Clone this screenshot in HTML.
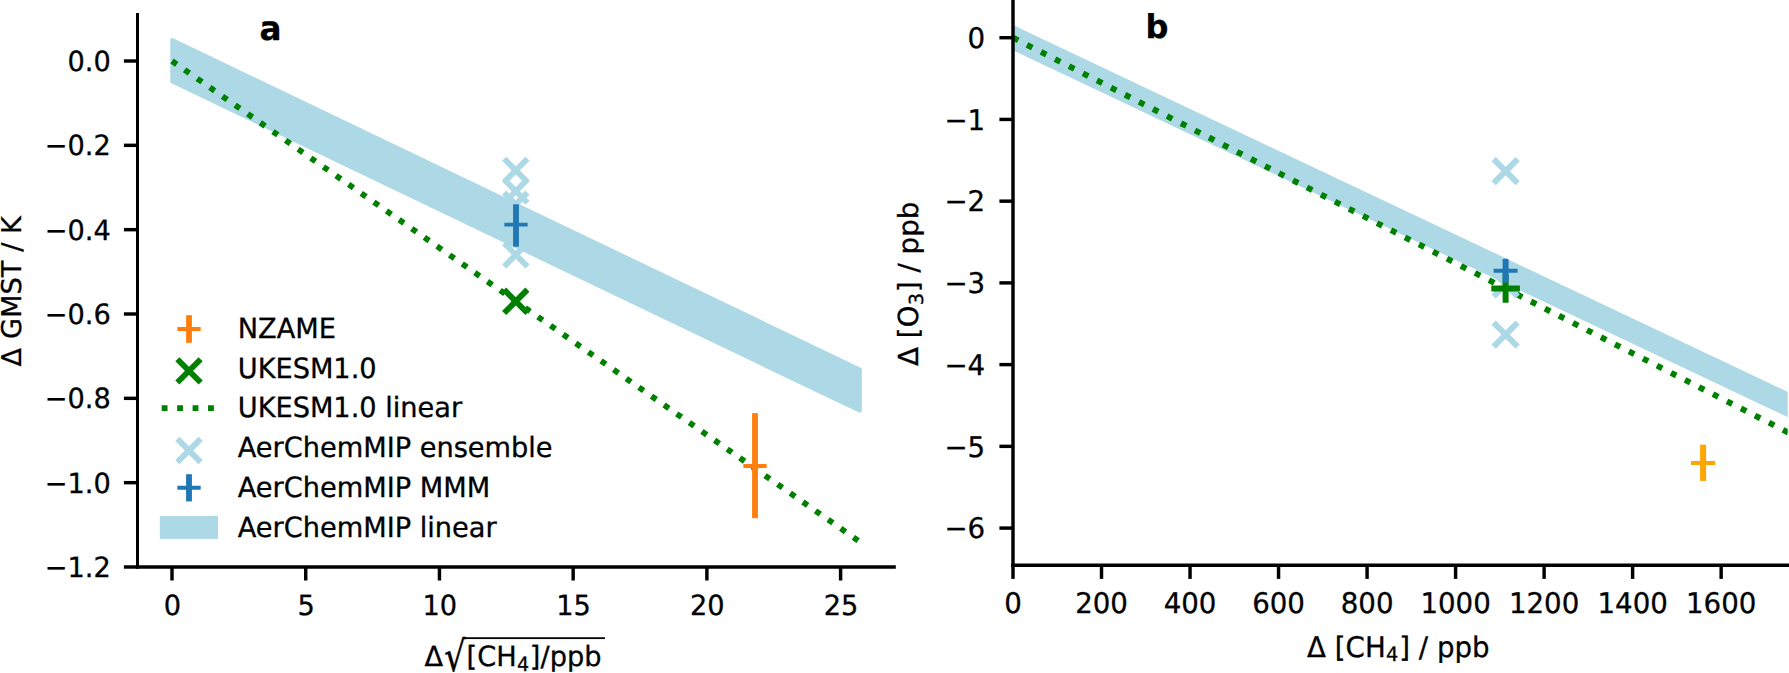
<!DOCTYPE html>
<html lang="en"><head><meta charset="utf-8"><title>Figure</title>
<style>
html,body{margin:0;padding:0;background:#fff;}
svg{display:block;}
text{text-rendering:geometricPrecision;stroke:#000;stroke-width:0.3px;font-family:"DejaVu Sans","Liberation Sans",sans-serif;fill:#000;}
</style></head>
<body>
<svg width="1789" height="673" viewBox="0 0 1789 673">
<rect x="0" y="0" width="1789" height="673" fill="#fff"/>
<polygon points="172.24,40.05 859.86,369.45 859.86,410.85 172.24,81.45" fill="#add8e6" stroke="#add8e6" stroke-width="3.886" stroke-linejoin="round"/>
<line x1="172.00" y1="61.00" x2="861.20" y2="542.75" stroke="#008000" stroke-width="5.83" stroke-dasharray="5.83 9.565"/>
<path d="M504.15 158.75L527.45 182.05M504.15 182.05L527.45 158.75" stroke="#add8e6" stroke-width="5.83" fill="none"/>
<path d="M504.15 179.45L527.45 202.75M504.15 202.75L527.45 179.45" stroke="#add8e6" stroke-width="5.83" fill="none"/>
<path d="M504.15 192.65L527.45 215.95M504.15 215.95L527.45 192.65" stroke="#add8e6" stroke-width="5.83" fill="none"/>
<path d="M504.15 243.15L527.45 266.45M504.15 266.45L527.45 243.15" stroke="#add8e6" stroke-width="5.83" fill="none"/>
<path d="M504.10 289.65L527.40 312.95M504.10 312.95L527.40 289.65" stroke="#008000" stroke-width="5.83" fill="none"/>
<line x1="516.00" y1="204.30" x2="516.00" y2="246.70" stroke="#1f77b4" stroke-width="5.83" />
<path d="M504.35 224.65L527.65 224.65M516.00 213.00L516.00 236.30" stroke="#1f77b4" stroke-width="3.886" fill="none"/>
<line x1="755.00" y1="413.10" x2="755.00" y2="518.20" stroke="#ff7f0e" stroke-width="5.83" />
<path d="M743.35 466.00L766.65 466.00M755.00 454.35L755.00 477.65" stroke="#ff7f0e" stroke-width="3.886" fill="none"/>
<line x1="137.50" y1="13.00" x2="137.50" y2="568.62" stroke="#000" stroke-width="3.0" />
<line x1="135.78" y1="566.90" x2="895.80" y2="566.90" stroke="#000" stroke-width="3.45" />
<line x1="172.00" y1="566.90" x2="172.00" y2="580.50" stroke="#000" stroke-width="3.45" />
<text transform="translate(172.40 614.50) scale(1 1.025)" font-size="27.2" text-anchor="middle" >0</text>
<line x1="305.72" y1="566.90" x2="305.72" y2="580.50" stroke="#000" stroke-width="3.45" />
<text transform="translate(306.12 614.50) scale(1 1.025)" font-size="27.2" text-anchor="middle" >5</text>
<line x1="439.44" y1="566.90" x2="439.44" y2="580.50" stroke="#000" stroke-width="3.45" />
<text transform="translate(439.84 614.50) scale(1 1.025)" font-size="27.2" text-anchor="middle" >10</text>
<line x1="573.16" y1="566.90" x2="573.16" y2="580.50" stroke="#000" stroke-width="3.45" />
<text transform="translate(573.56 614.50) scale(1 1.025)" font-size="27.2" text-anchor="middle" >15</text>
<line x1="706.88" y1="566.90" x2="706.88" y2="580.50" stroke="#000" stroke-width="3.45" />
<text transform="translate(707.28 614.50) scale(1 1.025)" font-size="27.2" text-anchor="middle" >20</text>
<line x1="840.60" y1="566.90" x2="840.60" y2="580.50" stroke="#000" stroke-width="3.45" />
<text transform="translate(841.00 614.50) scale(1 1.025)" font-size="27.2" text-anchor="middle" >25</text>
<line x1="123.90" y1="61.00" x2="137.50" y2="61.00" stroke="#000" stroke-width="3.45" />
<text transform="translate(110.80 71.10) scale(1 1.025)" font-size="27.2" text-anchor="end" >0.0</text>
<line x1="123.90" y1="145.33" x2="137.50" y2="145.33" stroke="#000" stroke-width="3.45" />
<text transform="translate(110.80 155.43) scale(1 1.025)" font-size="27.2" text-anchor="end" >−0.2</text>
<line x1="123.90" y1="229.67" x2="137.50" y2="229.67" stroke="#000" stroke-width="3.45" />
<text transform="translate(110.80 239.77) scale(1 1.025)" font-size="27.2" text-anchor="end" >−0.4</text>
<line x1="123.90" y1="314.00" x2="137.50" y2="314.00" stroke="#000" stroke-width="3.45" />
<text transform="translate(110.80 324.10) scale(1 1.025)" font-size="27.2" text-anchor="end" >−0.6</text>
<line x1="123.90" y1="398.34" x2="137.50" y2="398.34" stroke="#000" stroke-width="3.45" />
<text transform="translate(110.80 408.44) scale(1 1.025)" font-size="27.2" text-anchor="end" >−0.8</text>
<line x1="123.90" y1="482.67" x2="137.50" y2="482.67" stroke="#000" stroke-width="3.45" />
<text transform="translate(110.80 492.77) scale(1 1.025)" font-size="27.2" text-anchor="end" >−1.0</text>
<line x1="123.90" y1="567.00" x2="137.50" y2="567.00" stroke="#000" stroke-width="3.45" />
<text transform="translate(110.80 577.10) scale(1 1.025)" font-size="27.2" text-anchor="end" >−1.2</text>
<text transform="translate(259.60 39.85) scale(1 1.025)" font-size="32.64" text-anchor="start" font-weight="bold">a</text>
<g transform="translate(20.50 366.40) rotate(-90) scale(1 1.0)"><text x="0.00 18.64 27.30 48.42 71.93 89.23 105.87 114.54 123.72 132.38" y="0.00" font-size="27.2" xml:space="preserve">Δ GMST / K</text></g>
<g transform="translate(424.55 666.20) scale(1 1.025)"><text x="0.00 41.99 52.62 71.65" y="0.00" font-size="27.2" xml:space="preserve">Δ[CH</text><text x="92.40" y="4.32" font-size="19.04" xml:space="preserve">4</text><text x="105.27 115.91 125.09 142.38 159.68" y="0.00" font-size="27.2" xml:space="preserve">]/ppb</text></g>
<text transform="translate(444.32 670.93) scale(1.2375 1.5400)" font-size="27.2" stroke="none">√</text>
<rect x="463.14" y="637.25" width="141.79" height="1.8" fill="#000"/>
<line x1="189.00" y1="315.20" x2="189.00" y2="342.80" stroke="#ff7f0e" stroke-width="5.83" />
<path d="M177.35 329.00L200.65 329.00M189.00 317.35L189.00 340.65" stroke="#ff7f0e" stroke-width="3.886" fill="none"/>
<text transform="translate(237.75 337.95) scale(1 1.025)" font-size="27.2" text-anchor="start" >NZAME</text>
<path d="M177.35 359.25L200.65 382.55M177.35 382.55L200.65 359.25" stroke="#008000" stroke-width="5.83" fill="none"/>
<text transform="translate(237.75 377.67) scale(1 1.025)" font-size="27.2" text-anchor="start" >UKESM1.0</text>
<line x1="161.70" y1="408.10" x2="217.20" y2="408.10" stroke="#008000" stroke-width="5.83" stroke-dasharray="5.83 9.62"/>
<text transform="translate(237.75 417.39) scale(1 1.025)" font-size="27.2" text-anchor="start" >UKESM1.0 linear</text>
<path d="M177.35 438.85L200.65 462.15M177.35 462.15L200.65 438.85" stroke="#add8e6" stroke-width="5.83" fill="none"/>
<text transform="translate(237.75 457.11) scale(1 1.025)" font-size="27.2" text-anchor="start" >AerChemMIP ensemble</text>
<line x1="189.00" y1="474.20" x2="189.00" y2="501.40" stroke="#1f77b4" stroke-width="5.83" />
<path d="M177.35 487.80L200.65 487.80M189.00 476.15L189.00 499.45" stroke="#1f77b4" stroke-width="3.886" fill="none"/>
<text transform="translate(237.75 496.83) scale(1 1.025)" font-size="27.2" text-anchor="start" >AerChemMIP MMM</text>
<rect x="161.78" y="517.94" width="54.25" height="19.01" fill="#add8e6" stroke="#add8e6" stroke-width="3.886"/>
<text transform="translate(237.75 536.55) scale(1 1.025)" font-size="27.2" text-anchor="start" >AerChemMIP linear</text>
<clipPath id="cb"><rect x="1013.3" y="0" width="774.4" height="565.4"/></clipPath>
<g clip-path="url(#cb)">
<polygon points="1000.0,18.85 1800.0,397.62 1800.0,423.02 1000.0,44.25" fill="#add8e6"/>
<line x1="1013.00" y1="37.70" x2="1800.00" y2="438.52" stroke="#008000" stroke-width="5.93" stroke-dasharray="5.93 9.78"/>
</g>
<path d="M1493.65 159.10L1517.65 183.10M1493.65 183.10L1517.65 159.10" stroke="#add8e6" stroke-width="6.0" fill="none"/>
<path d="M1493.65 272.50L1517.65 296.50M1493.65 296.50L1517.65 272.50" stroke="#add8e6" stroke-width="6.0" fill="none"/>
<path d="M1493.65 322.60L1517.65 346.60M1493.65 346.60L1517.65 322.60" stroke="#add8e6" stroke-width="6.0" fill="none"/>
<path d="M1491.30 288.50L1519.90 288.50M1505.60 274.20L1505.60 302.80" stroke="#008000" stroke-width="5.95" fill="none"/>
<line x1="1505.60" y1="259.20" x2="1505.60" y2="282.00" stroke="#1f77b4" stroke-width="6.0" />
<path d="M1493.60 270.80L1517.60 270.80M1505.60 258.80L1505.60 282.80" stroke="#1f77b4" stroke-width="4.0" fill="none"/>
<line x1="1703.10" y1="444.70" x2="1703.10" y2="480.90" stroke="#ffa500" stroke-width="6.0" />
<path d="M1691.00 463.00L1715.20 463.00M1703.10 450.90L1703.10 475.10" stroke="#ffa500" stroke-width="4.0" fill="none"/>
<line x1="1013.00" y1="0.00" x2="1013.00" y2="567.02" stroke="#000" stroke-width="3.45" />
<line x1="1011.27" y1="565.30" x2="1789.00" y2="565.30" stroke="#000" stroke-width="3.45" />
<line x1="1013.00" y1="565.30" x2="1013.00" y2="578.90" stroke="#000" stroke-width="3.45" />
<text transform="translate(1013.00 613.40) scale(1 1.025)" font-size="27.66" text-anchor="middle" >0</text>
<line x1="1101.52" y1="565.30" x2="1101.52" y2="578.90" stroke="#000" stroke-width="3.45" />
<text transform="translate(1101.52 613.40) scale(1 1.025)" font-size="27.66" text-anchor="middle" >200</text>
<line x1="1190.04" y1="565.30" x2="1190.04" y2="578.90" stroke="#000" stroke-width="3.45" />
<text transform="translate(1190.04 613.40) scale(1 1.025)" font-size="27.66" text-anchor="middle" >400</text>
<line x1="1278.56" y1="565.30" x2="1278.56" y2="578.90" stroke="#000" stroke-width="3.45" />
<text transform="translate(1278.56 613.40) scale(1 1.025)" font-size="27.66" text-anchor="middle" >600</text>
<line x1="1367.08" y1="565.30" x2="1367.08" y2="578.90" stroke="#000" stroke-width="3.45" />
<text transform="translate(1367.08 613.40) scale(1 1.025)" font-size="27.66" text-anchor="middle" >800</text>
<line x1="1455.59" y1="565.30" x2="1455.59" y2="578.90" stroke="#000" stroke-width="3.45" />
<text transform="translate(1455.59 613.40) scale(1 1.025)" font-size="27.66" text-anchor="middle" >1000</text>
<line x1="1544.11" y1="565.30" x2="1544.11" y2="578.90" stroke="#000" stroke-width="3.45" />
<text transform="translate(1544.11 613.40) scale(1 1.025)" font-size="27.66" text-anchor="middle" >1200</text>
<line x1="1632.63" y1="565.30" x2="1632.63" y2="578.90" stroke="#000" stroke-width="3.45" />
<text transform="translate(1632.63 613.40) scale(1 1.025)" font-size="27.66" text-anchor="middle" >1400</text>
<line x1="1721.15" y1="565.30" x2="1721.15" y2="578.90" stroke="#000" stroke-width="3.45" />
<text transform="translate(1721.15 613.40) scale(1 1.025)" font-size="27.66" text-anchor="middle" >1600</text>
<line x1="999.40" y1="37.70" x2="1013.00" y2="37.70" stroke="#000" stroke-width="3.45" />
<text transform="translate(985.17 47.90) scale(1 1.025)" font-size="27.66" text-anchor="end" >0</text>
<line x1="999.40" y1="119.43" x2="1013.00" y2="119.43" stroke="#000" stroke-width="3.45" />
<text transform="translate(985.17 129.63) scale(1 1.025)" font-size="27.66" text-anchor="end" >−1</text>
<line x1="999.40" y1="201.16" x2="1013.00" y2="201.16" stroke="#000" stroke-width="3.45" />
<text transform="translate(985.17 211.36) scale(1 1.025)" font-size="27.66" text-anchor="end" >−2</text>
<line x1="999.40" y1="282.89" x2="1013.00" y2="282.89" stroke="#000" stroke-width="3.45" />
<text transform="translate(985.17 293.09) scale(1 1.025)" font-size="27.66" text-anchor="end" >−3</text>
<line x1="999.40" y1="364.62" x2="1013.00" y2="364.62" stroke="#000" stroke-width="3.45" />
<text transform="translate(985.17 374.82) scale(1 1.025)" font-size="27.66" text-anchor="end" >−4</text>
<line x1="999.40" y1="446.35" x2="1013.00" y2="446.35" stroke="#000" stroke-width="3.45" />
<text transform="translate(985.17 456.55) scale(1 1.025)" font-size="27.66" text-anchor="end" >−5</text>
<line x1="999.40" y1="528.08" x2="1013.00" y2="528.08" stroke="#000" stroke-width="3.45" />
<text transform="translate(985.17 538.28) scale(1 1.025)" font-size="27.66" text-anchor="end" >−6</text>
<text transform="translate(1145.54 37.85) scale(1 1.025)" font-size="32.0" text-anchor="start" font-weight="bold">b</text>
<g transform="translate(918.30 365.90) rotate(-90) scale(1 1.0)"><text x="0.00 18.96 27.76 38.57" y="-0.00" font-size="27.66" xml:space="preserve">Δ [O</text><text x="60.65" y="4.51" font-size="19.36" xml:space="preserve">3</text><text x="73.75 84.56 93.37 102.71 111.51 129.11 146.70" y="-0.00" font-size="27.66" xml:space="preserve">] / ppb</text></g>
<g transform="translate(1307.00 656.50) scale(1 1.025)"><text x="0.00 18.96 27.76 38.57 57.93" y="-0.00" font-size="27.66" xml:space="preserve">Δ [CH</text><text x="79.03" y="4.40" font-size="19.36" xml:space="preserve">4</text><text x="92.13 102.94 111.75 121.08 129.89 147.49 165.08" y="-0.00" font-size="27.66" xml:space="preserve">] / ppb</text></g>
</svg>
</body></html>
